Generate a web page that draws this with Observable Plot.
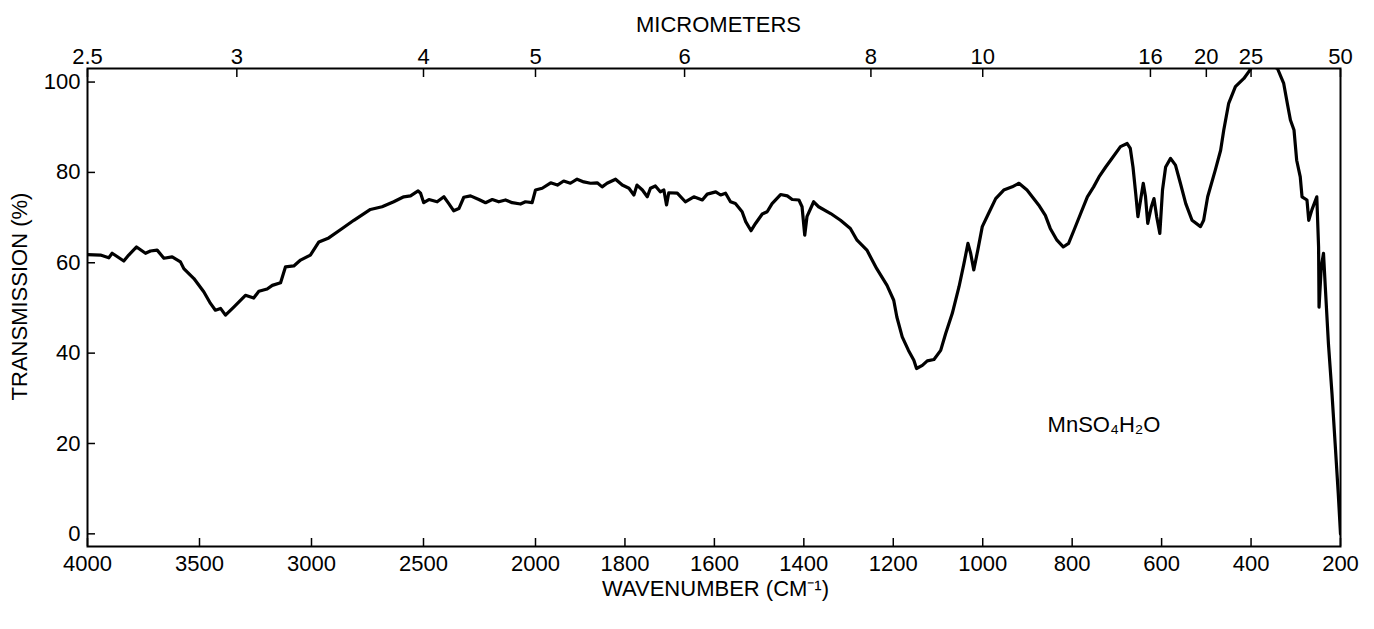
<!DOCTYPE html>
<html><head><meta charset="utf-8">
<script src="https://cdn.jsdelivr.net/npm/d3@7"></script>
<script src="https://cdn.jsdelivr.net/npm/@observablehq/plot@0.6"></script>
<style>
html,body{margin:0;padding:0;background:#fff;}
</style></head><body><div id="chart"></div>
<script>
const wavenumber = [4000,3942,3905,3890,3838,3816,3781,3741,3719,3689,3659,3622,3585,3570,3525,3481,3451,3429,3406,3384,3347,3295,3258,3235,3198,3175,3138,3116,3079,3049,3005,2967,2923,2863,2811,2737,2685,2633,2588,2558,2524,2513,2499,2476,2439,2409,2387,2365,2342,2320,2290,2253,2223,2193,2164,2134,2104,2067,2045,2015,2000,1985,1966,1951,1937,1922,1907,1892,1877,1862,1851,1840,1821,1806,1791,1780,1773,1761,1750,1743,1732,1721,1713,1707,1702,1683,1665,1646,1627,1616,1597,1586,1575,1564,1553,1538,1530,1518,1508,1493,1482,1471,1452,1437,1426,1411,1404,1398,1393,1378,1367,1340,1318,1296,1281,1259,1237,1214,1199,1192,1180,1166,1154,1148,1135,1124,1109,1094,1083,1068,1053,1042,1033,1027,1020,1011,1001,987,971,953,934,919,901,875,860,849,834,820,808,796,781,766,752,740,725,714,692,677,670,664,658,653,647,641,636,631,623,617,611,604,598,591,580,569,558,546,532,513,506,497,480,468,461,450,435,416,405,398,349,341,327,319,312,304,298,290,286,275,271,264,253,249,248,243,238,234,227,219,212,205,200];
const transmission = [61.8,61.7,61.1,62.1,60.4,61.7,63.5,62.1,62.6,62.8,61.0,61.3,60.2,58.7,56.5,53.6,51.0,49.5,49.9,48.4,50.2,52.8,52.2,53.7,54.2,55.0,55.6,59.1,59.3,60.6,61.7,64.6,65.5,67.6,69.4,71.8,72.4,73.5,74.6,74.8,75.9,75.4,73.3,74.0,73.5,74.6,73.1,71.5,72.0,74.5,74.8,74.0,73.3,74.0,73.5,73.9,73.3,73.0,73.5,73.3,76.1,76.5,77.7,77.2,78.1,77.6,78.5,77.9,77.6,77.7,76.8,77.6,78.5,77.2,76.5,75.0,77.2,76.1,74.6,76.5,77.0,75.7,76.1,72.8,75.5,75.4,73.5,74.6,73.9,75.2,75.7,75.0,75.4,73.5,73.1,71.3,69.1,67.1,68.7,70.8,71.3,73.1,75.1,74.8,74.0,73.9,72.4,66.1,70.2,73.5,72.4,70.9,69.4,67.6,65.0,62.8,58.7,55.0,51.7,48.0,43.6,40.6,38.4,36.6,37.3,38.3,38.6,40.6,44.3,48.8,54.7,59.8,64.3,62.1,58.4,62.8,68.0,70.9,74.2,76.1,76.8,77.6,76.1,72.8,70.5,67.6,65.0,63.5,64.3,67.2,70.9,74.6,76.8,79.0,81.2,82.7,85.7,86.4,85.3,81.2,75.4,70.2,73.9,77.6,74.6,68.7,72.4,74.2,70.2,66.5,76.1,81.2,83.1,81.6,77.6,73.1,69.4,68.0,69.4,74.6,80.5,84.9,89.4,95.3,99.0,100.8,102.3,103.4,103.4,103.0,99.7,95.3,91.6,89.4,82.7,79.0,74.6,73.9,69.4,71.7,74.6,63.5,50.2,59.1,62.1,54.7,42.1,31.0,20.0,8.9,0];
const bottomTicks = [4000,3500,3000,2500,2000,1800,1600,1400,1200,1000,800,600,400,200];
const micronTicks = [2.5,3,4,5,6,8,10,16,20,25,50];
const yTicks = [0,20,40,60,80,100];
const annotations = [{label: "MnSO₄H₂O", wn: 855, t: 24}];

const data = wavenumber.map((w, i) => ({wn: w, t: transmission[i]}));
const font = "'Liberation Sans', Arial, Helvetica, sans-serif";
const chart = Plot.plot({
  width: 1374, height: 629,
  marginLeft: 87, marginRight: 34, marginTop: 68, marginBottom: 83,
  style: {fontFamily: font, fontSize: "22px", color: "black", background: "white"},
  x: {type: "linear", domain: [4000, 2000, 200], range: [87, 535, 1340]},
  y: {domain: [-2.8, 103]},
  marks: [
    Plot.axisY({ticks: yTicks, tickSize: -8, tickPadding: 15, strokeWidth: 1.5, fontSize: 22, label: null}),
    Plot.axisX({anchor: "bottom", ticks: bottomTicks, tickSize: -8, tickPadding: 17, tickFormat: d => String(d), label: null, fontSize: 22, strokeWidth: 1.5}),
    Plot.axisX({anchor: "top", ticks: micronTicks.map(u => 10000 / u), tickSize: -8, tickPadding: 13, tickFormat: d => String(+(10000 / d).toFixed(1)), label: null, fontSize: 22, strokeWidth: 1.5}),
    Plot.frame({stroke: "black", strokeWidth: 2}),
    Plot.line(data, {x: "wn", y: "t", stroke: "black", strokeWidth: 3.2, clip: true, strokeLinejoin: "round"}),
    Plot.text(annotations, {x: "wn", y: "t", text: "label", textAnchor: "start", fontSize: 22}),
    Plot.text(["MICROMETERS"], {frameAnchor: "top", lineAnchor: "middle", textAnchor: "middle", dx: 4.5, dy: -44, fontSize: 22}),
    Plot.text(["WAVENUMBER (CM⁻¹)"], {frameAnchor: "bottom", lineAnchor: "middle", textAnchor: "middle", dx: 1.5, dy: 42, fontSize: 22}),
    Plot.text(["TRANSMISSION (%)"], {frameAnchor: "left", lineAnchor: "middle", textAnchor: "middle", rotate: -90, dx: -68, dy: -11, fontSize: 22})
  ]
});
document.getElementById("chart").appendChild(chart);
</script>
</body></html>
